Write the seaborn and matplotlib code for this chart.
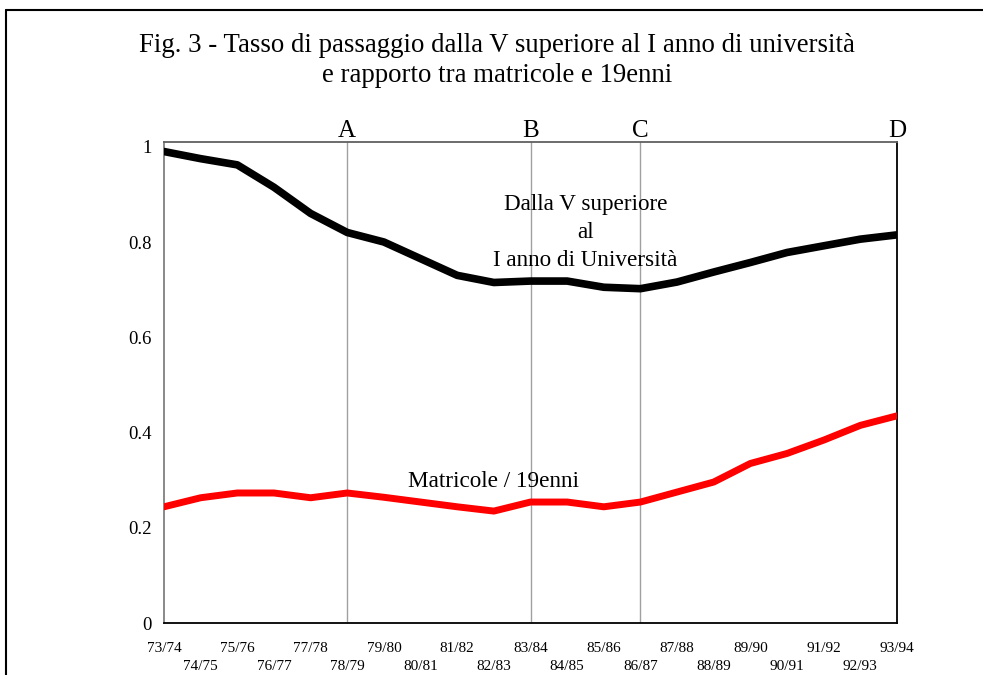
import matplotlib
matplotlib.use("Agg")
import matplotlib.pyplot as plt
from matplotlib.lines import Line2D
import pandas as pd
import seaborn as sns

anni = ["73/74", "74/75", "75/76", "76/77", "77/78", "78/79", "79/80", "80/81",
        "81/82", "82/83", "83/84", "84/85", "85/86", "86/87", "87/88", "88/89",
        "89/90", "90/91", "91/92", "92/93", "93/94"]
passaggio = [0.99, 0.975, 0.962, 0.915, 0.86, 0.82, 0.80, 0.765, 0.73, 0.715, 0.718,
             0.718, 0.705, 0.702, 0.716, 0.737, 0.757, 0.778, 0.792, 0.806, 0.815]
matricole = [0.244, 0.263, 0.273, 0.273, 0.263, 0.273, 0.264, 0.254, 0.244, 0.235, 0.254,
             0.254, 0.244, 0.254, 0.275, 0.296, 0.335, 0.356, 0.384, 0.415, 0.435]
fasi = ["A", "B", "C", "D"]
fasi_anni = ["78/79", "83/84", "86/87", "93/94"]

df = pd.DataFrame({"x": range(len(anni)), "passaggio": passaggio, "matricole": matricole})

sns.set_style("white")
plt.rcParams["font.family"] = ["Liberation Serif", "DejaVu Serif"]
plt.rcParams["text.color"] = "black"
plt.rcParams["xtick.color"] = "black"
plt.rcParams["ytick.color"] = "black"

fig = plt.figure(figsize=(9.83, 6.75), dpi=100)
ax = fig.add_axes([164 / 983, 1 - 623 / 675, (897 - 164) / 983, (623 - 142) / 675])

# linee verticali delle fasi
for f, a in zip(fasi, fasi_anni):
    i = anni.index(a)
    if f != "D":
        ax.axvline(i, color="#a0a0a0", lw=1, zorder=1)
    ax.text(i, 1.0, f, transform=ax.get_xaxis_transform(), ha="center", va="bottom", fontsize=18)

sns.lineplot(data=df, x="x", y="passaggio", color="black", lw=5.5, ax=ax, zorder=3)
sns.lineplot(data=df, x="x", y="matricole", color="#ff0000", lw=5, ax=ax, zorder=3)

ax.set_xlim(0, len(anni) - 1)
ax.set_ylim(0, 1.01)
ax.set_yticks([0, 0.2, 0.4, 0.6, 0.8, 1])
ax.set_yticklabels(["0", "0.2", "0.4", "0.6", "0.8", "1"], fontsize=13.5)
ax.set_xticks(range(len(anni)))
ax.set_xticklabels([a if i % 2 == 0 else "\n" + a for i, a in enumerate(anni)], fontsize=11,
                   linespacing=1.45)
ax.tick_params(axis="y", length=0, pad=9)
ax.tick_params(axis="x", length=0, pad=14)
ax.set_xlabel("")
ax.set_ylabel("")

ax.spines["left"].set_color("#808080")
ax.spines["top"].set_color("#606060")
ax.spines["bottom"].set_color("black")
ax.spines["right"].set_color("black")
for s in ax.spines.values():
    s.set_linewidth(1.3)

ax.text(11.5, 0.82, "Dalla V superiore\nal\nI anno di Università", ha="center", va="center",
        fontsize=16.7, linespacing=1.45)
ax.text(9, 0.297, "Matricole / 19enni", ha="center", va="center", fontsize=16.7)

fig.text(497 / 983, 1 - 45 / 675, "Fig. 3 - Tasso di passaggio dalla V superiore al I anno di università",
         ha="center", va="center", fontsize=19.3)
fig.text(497 / 983, 1 - 75 / 675, "e rapporto tra matricole e 19enni", ha="center", va="center", fontsize=19.3)

# cornice
fig.add_artist(Line2D([6 / 983, 1], [1 - 10 / 675, 1 - 10 / 675], color="black", lw=1.5))
fig.add_artist(Line2D([6 / 983, 6 / 983], [0, 1 - 10 / 675], color="black", lw=1.5))

fig.savefig("out.png", dpi=100)
